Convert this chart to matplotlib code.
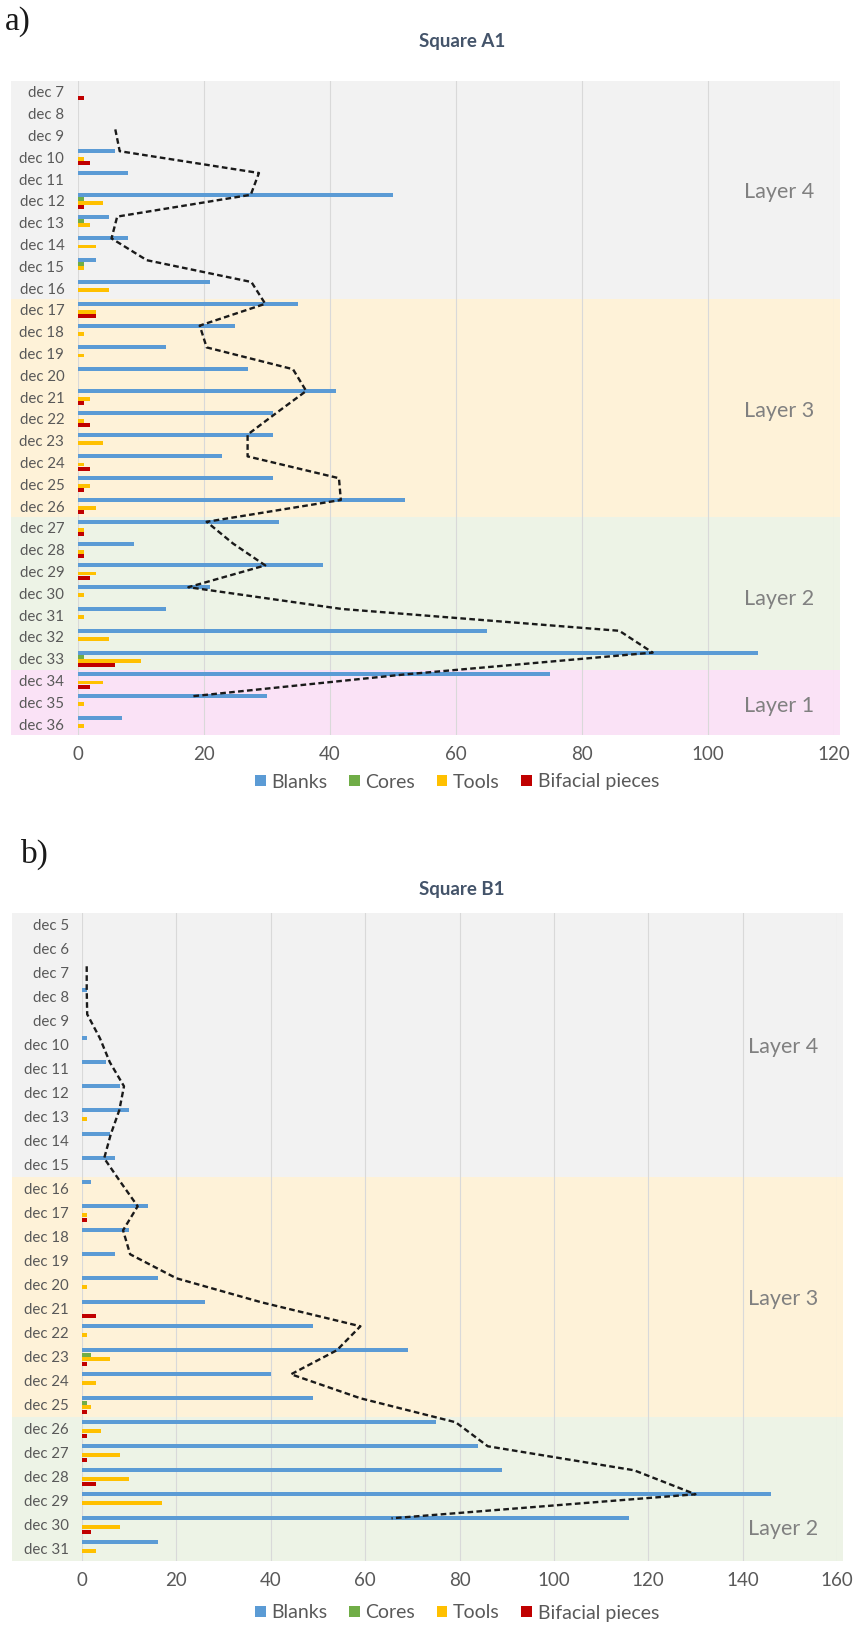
import numpy as np
import matplotlib
matplotlib.use("Agg")
import matplotlib.pyplot as plt
from matplotlib.patches import Rectangle, Patch

plt.rcParams['font.family'] = ['Lato', 'DejaVu Sans']

# ---------------- data : Square A1 ----------------
cats_a = ["dec %d" % d for d in range(7, 37)]
blanks_a = [0, 0, 0, 6, 8, 50, 5, 8, 3, 21, 35, 25, 14, 27, 41, 31, 31, 23, 31, 52,
            32, 9, 39, 21, 14, 65, 108, 75, 30, 7]
cores_a = [0, 0, 0, 0, 0, 1, 1, 0, 1, 0, 0, 0, 0, 0, 0, 0, 0, 0, 0, 0,
           0, 0, 0, 0, 0, 0, 1, 0, 0, 0]
tools_a = [0, 0, 0, 1, 0, 4, 2, 3, 1, 5, 3, 1, 1, 0, 2, 1, 4, 1, 2, 3,
           1, 1, 3, 1, 1, 5, 10, 4, 1, 1]
bifacial_a = [1, 0, 0, 2, 0, 1, 0, 0, 0, 0, 3, 0, 0, 0, 1, 2, 0, 2, 1, 1,
              1, 1, 2, 0, 0, 0, 6, 2, 0, 0]
trend_a = [np.nan, np.nan, 6, 6.7, 28.8, 27.5, 6.3, 5.4, 11, 27.6, 29.8, 19.4, 20.5, 34.2,
           36.3, 31.6, 27, 27, 41.5, 41.8, 20.5, 24.7, 29.8, 17.6, 42, 86, 91.3, 52,
           18.3, np.nan]
# (label, first decapage, last decapage, decapage where the label sits)
layers_a = [("Layer 4", "dec 7", "dec 16", "dec 11"), ("Layer 3", "dec 17", "dec 26", "dec 21"),
            ("Layer 2", "dec 27", "dec 33", "dec 30"), ("Layer 1", "dec 34", "dec 36", "dec 35")]
label_shift_a = [0.6, 0.65, 0.25, 0.15]

# ---------------- data : Square B1 ----------------
cats_b = ["dec %d" % d for d in range(5, 32)]
blanks_b = [0, 0, 0, 1, 0, 1, 5, 8, 10, 6, 7, 2, 14, 10, 7, 16, 26, 49, 69, 40,
            49, 75, 84, 89, 146, 116, 16]
cores_b = [0, 0, 0, 0, 0, 0, 0, 0, 0, 0, 0, 0, 0, 0, 0, 0, 0, 0, 2, 0,
           1, 0, 0, 0, 0, 0, 0]
tools_b = [0, 0, 0, 0, 0, 0, 0, 0, 1, 0, 0, 0, 1, 0, 0, 1, 0, 1, 6, 3,
           2, 4, 8, 10, 17, 8, 3]
bifacial_b = [0, 0, 0, 0, 0, 0, 0, 0, 0, 0, 0, 0, 1, 0, 0, 0, 3, 0, 1, 0,
              1, 1, 1, 3, 0, 2, 0]
trend_b = [np.nan, np.nan, 1, 1, 1.1, 3.8, 5.9, 8.9, 7.9, 6.1, 4.7, 8.2, 11.8, 8.7,
           10.2, 20, 38, 59, 54, 44.3, 59, 79.2, 86, 117, 130, 65.6, np.nan]
layers_b = [("Layer 4", "dec 5", "dec 15", "dec 10"), ("Layer 3", "dec 16", "dec 25", "dec 21"),
            ("Layer 2", "dec 26", "dec 31", "dec 30")]
label_shift_b = [0.1, -0.4, 0.15]

series_names = ["Blanks", "Cores", "Tools", "Bifacial pieces"]
series_colors = ["#5b9bd5", "#70ad47", "#ffc000", "#c00000"]
layer_colors = {"Layer 4": "#f2f2f2", "Layer 3": "#fef2d8",
                "Layer 2": "#edf3e6", "Layer 1": "#fae2f6"}

W, H = 868, 1625
fig = plt.figure(figsize=(W / 100, H / 100), dpi=100)
fig.patch.set_facecolor("white")


def fx(px):
    return px / W


def fy(py):
    return 1 - py / H


def panel(rect, cats, series, trend, layers, shifts, xmax, xstep, left_bg_px,
          title, title_y, letter, letter_xy, legend_y):
    ax = fig.add_axes(rect)
    ax.patch.set_visible(False)
    n = len(cats)
    idx = np.arange(n)
    offsets = [-0.28, -0.093, 0.093, 0.28]
    h = 0.18
    for vals, off, col, name in zip(series, offsets, series_colors, series_names):
        ax.barh(idx + off, vals, height=h, color=col, label=name, zorder=3)
    ax.plot(np.array(trend), idx + offsets[0], color="#1a1a1a", lw=1.7,
            ls=(0, (2.4, 1.4)), zorder=4)
    ax.set_xlim(0, xmax)
    ax.set_ylim(n - 0.5, -0.5)
    ax.set_xticks(np.arange(0, xmax + 1, xstep))
    ax.set_yticks(idx)
    ax.set_yticklabels(cats, fontsize=10.8, color="#595959")
    ax.tick_params(axis="x", labelsize=13.5, colors="#595959", length=0, pad=8)
    ax.tick_params(axis="y", length=0, pad=9.5)
    for s in ax.spines.values():
        s.set_visible(False)
    ax.grid(axis="x", color="#d9d9d9", lw=0.8, zorder=1)
    ax.set_axisbelow(True)
    # layer background bands (extend under the category labels)
    ax_left_px = rect[0] * W
    ax_w_px = rect[2] * W
    x0 = (left_bg_px - ax_left_px) / ax_w_px
    for (name, c0, c1, cl), sh in zip(layers, shifts):
        i0 = cats.index(c0)
        i1 = cats.index(c1)
        r = Rectangle((x0, i0 - 0.5), 1.0 - x0 + 0.008, i1 - i0 + 1,
                      transform=ax.get_yaxis_transform(), facecolor=layer_colors[name],
                      edgecolor="none", zorder=0, clip_on=False)
        ax.add_patch(r)
        ax.text(0.928, cats.index(cl) + sh, name, transform=ax.get_yaxis_transform(),
                ha="center", va="center", fontsize=15.5, color="#808080", zorder=5)
    fig.text(fx(462), title_y, title, ha="center", va="center", fontsize=13.5,
             fontweight="bold", color="#44546a")
    fig.text(letter_xy[0], letter_xy[1], letter, ha="left", va="center",
             fontsize=24, family=["Liberation Serif", "DejaVu Serif"], color="#1a1a1a")
    handles = [Patch(facecolor=c, edgecolor="none", label=nm)
               for c, nm in zip(series_colors, series_names)]
    fig.legend(handles=handles, loc="center", bbox_to_anchor=(fx(457), legend_y),
               ncol=4, frameon=False, fontsize=14, handlelength=0.55, handleheight=0.55,
               handletextpad=0.3, columnspacing=1.1, labelcolor="#595959")
    return ax


# panel a
pa = [fx(77.5), fy(735), fx(833.5) - fx(77.5), fy(81) - fy(735)]
panel(pa, cats_a, [blanks_a, cores_a, tools_a, bifacial_a], trend_a, layers_a, label_shift_a,
      120, 20, 11, "Square A1", fy(42), "a)", (fx(5), fy(22)), fy(782))

# panel b
pb = [fx(82), fy(1561), fx(837) - fx(82), fy(913) - fy(1561)]
panel(pb, cats_b, [blanks_b, cores_b, tools_b, bifacial_b], trend_b, layers_b, label_shift_b,
      160, 20, 12, "Square B1", fy(890), "b)", (fx(21), fy(854)), fy(1613))

fig.savefig("out.png", dpi=100, facecolor="white")
